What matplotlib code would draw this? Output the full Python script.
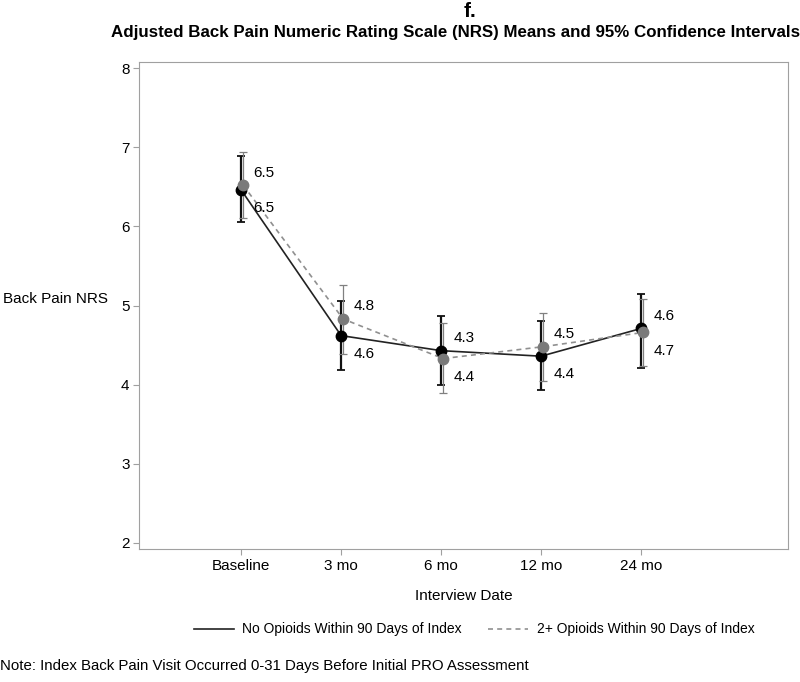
"""
adjusted back pain NRS means with 95% CI, two groups
"""

import numpy as np
import matplotlib.pyplot as plt

plt.rcParams["font.family"] = ["Liberation Sans", "DejaVu Sans"]

visits = ["Baseline", "3 mo", "6 mo", "12 mo", "24 mo"]

# no opioids within 90 days of index
none_mean = [6.46, 4.62, 4.43, 4.36, 4.71]
none_lo = [6.05, 4.19, 3.99, 3.93, 4.21]
none_hi = [6.89, 5.06, 4.87, 4.81, 5.14]

# 2+ opioids within 90 days of index
opi_mean = [6.52, 4.83, 4.33, 4.48, 4.66]
opi_lo = [6.10, 4.39, 3.90, 4.05, 4.24]
opi_hi = [6.94, 5.26, 4.78, 4.91, 5.08]

upper_labels = ["6.5", "4.8", "4.3", "4.5", "4.6"]
lower_labels = ["6.5", "4.6", "4.4", "4.4", "4.7"]

x = np.arange(1, len(visits) + 1)
none_mean = np.array(none_mean)
opi_mean = np.array(opi_mean)

fig = plt.figure(figsize=(8, 6.82), dpi=100)
ax = fig.add_axes([0.174, 0.195, 0.811, 0.714])

frame = "#a0a0a0"

ax.errorbar(x, none_mean,
            yerr=[none_mean - np.array(none_lo), np.array(none_hi) - none_mean],
            fmt="none", ecolor="#111111", elinewidth=1.6, capsize=3.2, capthick=1.3,
            zorder=2)
ax.errorbar(x + 0.02, opi_mean,
            yerr=[opi_mean - np.array(opi_lo), np.array(opi_hi) - opi_mean],
            fmt="none", ecolor="#808080", elinewidth=0.9, capsize=3, capthick=0.9,
            zorder=2)
ax.plot(x, none_mean, "-", color="#222222", lw=1.2, zorder=3,
        label="No Opioids Within 90 Days of Index")
ax.plot(x + 0.02, opi_mean, color="#909090", lw=1.2, ls=(0, (3, 2.5)), zorder=3,
        label="2+ Opioids Within 90 Days of Index")
ax.plot(x, none_mean, "o", color="black", ms=7.5, zorder=4)
ax.plot(x + 0.02, opi_mean, "o", color="#7a7a7a", ms=7.5, zorder=5)

top = np.maximum(none_mean, opi_mean)
bot = np.minimum(none_mean, opi_mean)
for xi, t, b, ut, lt in zip(x, top, bot, upper_labels, lower_labels):
    ax.annotate(ut, (xi, t), xytext=(9, 9), textcoords="offset points",
                fontsize=11, va="center", ha="left")
    ax.annotate(lt, (xi, b), xytext=(9, -13), textcoords="offset points",
                fontsize=11, va="center", ha="left")

ax.set_xlim(-0.02, 6.47)
ax.set_ylim(1.924, 8.076)
ax.set_xticks(x)
ax.set_xticklabels(visits)
ax.set_yticks([2, 3, 4, 5, 6, 7, 8])
ax.tick_params(colors=frame, labelcolor="black", labelsize=11, length=4, pad=3)
for s in ax.spines.values():
    s.set_color(frame)

ax.set_xlabel("Interview Date", fontsize=11, labelpad=12)
ax.set_ylabel("Back Pain NRS", fontsize=11, rotation=0, labelpad=0)
ax.yaxis.set_label_coords(-0.21, 0.5)
ax.yaxis.label.set_horizontalalignment("left")

fig.text(0.588, 0.997, "f.", fontsize=15, fontweight="bold", ha="center", va="top")
fig.text(0.57, 0.963, "Adjusted Back Pain Numeric Rating Scale (NRS) Means and 95% Confidence Intervals",
         fontsize=12.2, fontweight="bold", ha="center", va="top")

fig.legend(loc="center", bbox_to_anchor=(0.5925, 0.077), ncol=2, frameon=False,
           fontsize=10, handlelength=2.9, handletextpad=0.6, columnspacing=1.9)

fig.text(0.0, 0.013, "Note: Index Back Pain Visit Occurred 0-31 Days Before Initial PRO Assessment",
         fontsize=10.8, ha="left", va="bottom")

fig.savefig("out.png", dpi=100)
